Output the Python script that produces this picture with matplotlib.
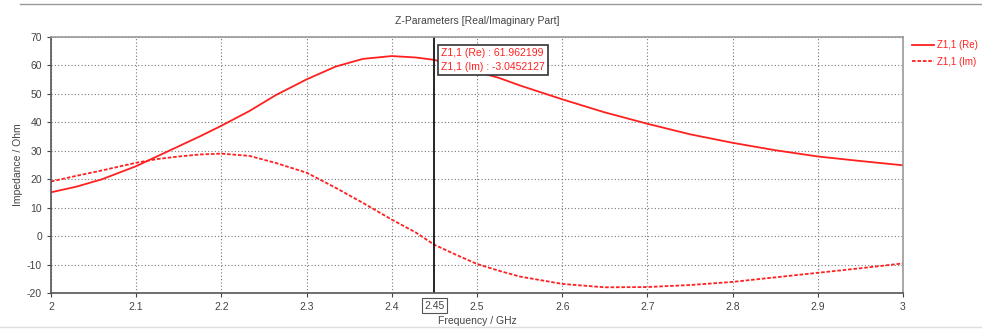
import matplotlib
matplotlib.use("Agg")
import matplotlib.pyplot as plt
import matplotlib.transforms as mtransforms

plt.rcParams["font.family"] = ["Liberation Sans", "DejaVu Sans"]
plt.rcParams["axes.unicode_minus"] = False

# Frequency samples (GHz) and readings (Ohm)
freq = [2.0, 2.03, 2.06, 2.1, 2.125, 2.15, 2.175, 2.2, 2.233, 2.264, 2.3, 2.334,
        2.366, 2.4, 2.428, 2.45, 2.475, 2.5, 2.526, 2.55, 2.6, 2.65, 2.7, 2.75,
        2.8, 2.85, 2.9, 2.95, 3.0]
z11_re = [15.4, 17.4, 20.0, 24.6, 28.1, 31.6, 35.1, 38.8, 44.0, 49.6, 55.1, 59.6,
          62.3, 63.3, 62.8, 61.96, 59.9, 57.8, 55.6, 53.0, 48.1, 43.5, 39.5, 35.8,
          32.8, 30.2, 28.0, 26.4, 24.9]
z11_im = [19.2, 21.2, 23.1, 25.8, 27.1, 28.0, 28.7, 29.0, 28.2, 25.7, 22.3, 17.0,
          11.7, 5.8, 1.3, -3.05, -6.5, -9.8, -12.2, -14.2, -16.8, -18.0, -17.9, -17.2,
          -16.1, -14.5, -12.9, -11.3, -9.6]

marker_f = 2.45
marker_re = 61.962199
marker_im = -3.0452127

xticks = [2, 2.1, 2.2, 2.3, 2.4, 2.5, 2.6, 2.7, 2.8, 2.9, 3]
xticklabels = ["2", "2.1", "2.2", "2.3", "2.4", "2.5", "2.6", "2.7", "2.8", "2.9", "3"]
yticks = [-20, -10, 0, 10, 20, 30, 40, 50, 60, 70]

red = "#ff2020"
txt = "#444444"

fig = plt.figure(figsize=(9.82, 3.29), dpi=100)
ax = fig.add_axes([51 / 982, 1 - 293 / 329, (903 - 51) / 982, (293 - 37) / 329])

ax.plot(freq, z11_re, color=red, lw=1.3, label="Z1,1 (Re)")
ax.plot(freq, z11_im, color=red, lw=1.3, ls=(0, (2, 1)), label="Z1,1 (Im)")

ax.set_xlim(2, 3)
ax.set_ylim(-20, 70)
ax.set_xticks(xticks)
ax.set_xticklabels(xticklabels)
ax.set_yticks(yticks)
ax.grid(True, color="#777777", ls=(0, (1, 2)), lw=0.8)
ax.tick_params(labelsize=7.5, colors=txt, length=3, width=0.8, direction="out")
for side in ["left", "bottom"]:
    ax.spines[side].set_color("#555555")
    ax.spines[side].set_linewidth(1.2)
for side in ["top", "right"]:
    ax.spines[side].set_color("#999999")
    ax.spines[side].set_linewidth(1.2)

# marker line
ax.axvline(marker_f, color="black", lw=1.2)
trans = mtransforms.blended_transform_factory(ax.transData, ax.transAxes)
ax.text(marker_f, -0.05, "2.45", transform=trans, ha="center", va="center",
        fontsize=7.5, color=txt,
        bbox=dict(boxstyle="square,pad=0.25", fc="white", ec="#555555", lw=0.8))

ax.text(marker_f + 0.008, 0.91,
        "Z1,1 (Re) : %.6f\nZ1,1 (Im) : %.7f" % (marker_re, marker_im),
        transform=trans, ha="left", va="center", fontsize=7.5, color=red,
        linespacing=1.55,
        bbox=dict(boxstyle="square,pad=0.3", fc="white", ec="#333333", lw=1.2))

ax.set_title("Z-Parameters [Real/Imaginary Part]", fontsize=7.5, color=txt, pad=9)
ax.set_xlabel("Frequency / GHz", fontsize=7.5, color=txt, labelpad=3)
ax.set_ylabel("Impedance / Ohm", fontsize=7.5, color=txt, labelpad=3)

ax.legend(loc="upper left", bbox_to_anchor=(1.007, 1.0), frameon=False,
          fontsize=7, labelcolor=red, handlelength=2.3, handletextpad=0.3,
          labelspacing=0.7, borderaxespad=0.1, borderpad=0.2)

fig.add_artist(plt.Line2D([20 / 982, 1], [1 - 4 / 329, 1 - 4 / 329],
                          color="#999999", lw=1))
fig.add_artist(plt.Line2D([0, 1], [1 - 327 / 329, 1 - 327 / 329],
                          color="#dddddd", lw=1))

fig.savefig("out.png", dpi=100)
